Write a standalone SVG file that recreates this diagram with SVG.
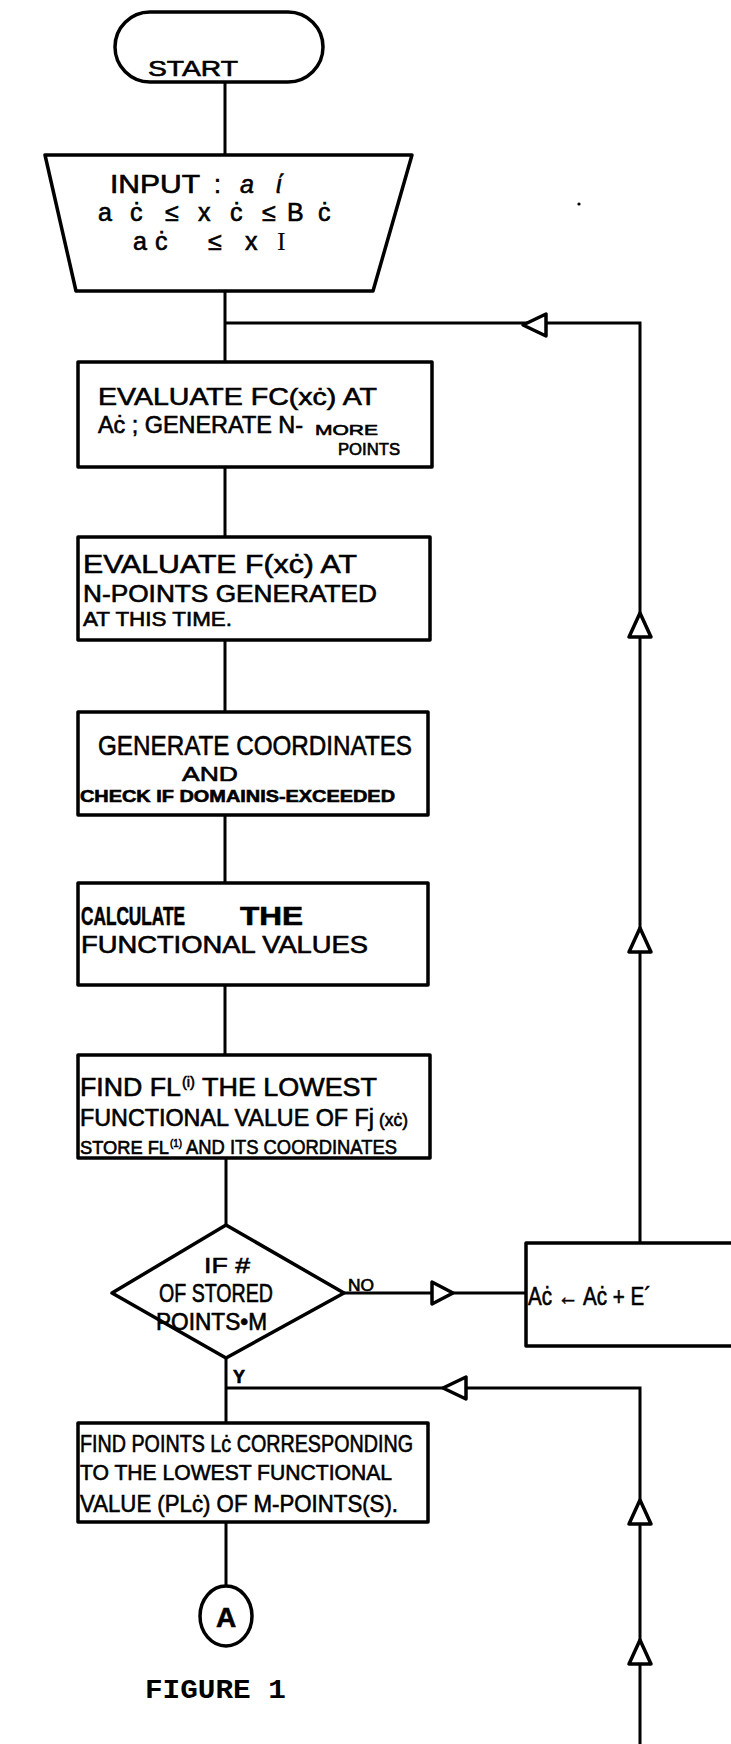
<svg xmlns="http://www.w3.org/2000/svg" width="731" height="1744" viewBox="0 0 731 1744">
<style>
.sh{fill:#fff;stroke:#000;stroke-width:3.5;stroke-linejoin:round}
.ln{fill:none;stroke:#000;stroke-width:3}
.ah{fill:#fff;stroke:#000;stroke-width:3.5;stroke-linejoin:round}
.t{font-family:"Liberation Sans",Arial,sans-serif;fill:#000;stroke:#000;stroke-width:0.6}
.m{font-family:"Liberation Mono","Courier New",monospace;font-weight:bold;fill:#000}
</style>
<rect width="731" height="1744" fill="#fff"/>
<g id="connectors">
<path class="ln" d="M225 82V155M225 290V362M225 467V537M225 640V712M225 815V883M225 985V1055M226 1158V1225M226 1358V1423M226 1522V1588"/>
<path class="ln" d="M225 323H640V1243"/>
<path class="ln" d="M344 1293H526"/>
<path class="ln" d="M226 1388H640V1744"/>
<polygon class="ah" points="523,325 546,314 546,336"/>
<polygon class="ah" points="640,613 629,637 651,637"/>
<polygon class="ah" points="640,928 629,952 651,952"/>
<polygon class="ah" points="453,1293 432,1282 432,1304"/>
<polygon class="ah" points="443,1388 466,1377 466,1399"/>
<polygon class="ah" points="640,1500 629,1524 651,1524"/>
<polygon class="ah" points="640,1640 629,1664 651,1664"/>
</g>
<circle cx="579" cy="204" r="1.6" fill="#000"/>
<g id="start">
<rect class="sh" x="115" y="12" width="208" height="70" rx="35"/>
<text class="t" x="148" y="76" font-size="22" textLength="90" lengthAdjust="spacingAndGlyphs">START</text>
</g>
<g id="input">
<polygon class="sh" points="45,155 412,155 373,291 76,291"/>
<text class="t" x="110" y="193" font-size="25" textLength="90" lengthAdjust="spacingAndGlyphs">INPUT</text>
<text class="t" x="214" y="193" font-size="25">:</text>
<text class="t" x="240" y="193" font-size="25" font-style="italic">a</text>
<text class="t" x="276" y="193" font-size="25" font-style="italic">ί</text>
<text class="t" y="221" font-size="25" x="98 130 165 198 230 262 287 318">aċ≤xċ≤Bċ</text>
<text class="t" y="250" font-size="25" x="133 155 208 245">aċ≤x</text>
<text x="277" y="250" font-size="26" font-family="Liberation Serif,serif" fill="#000">I</text>
</g>
<g id="box1">
<rect class="sh" x="78" y="362" width="354" height="105"/>
<text class="t" x="98" y="405" font-size="24" textLength="279" lengthAdjust="spacingAndGlyphs">EVALUATE  FC(xċ)  AT</text>
<text class="t" x="98" y="433" font-size="23" textLength="205" lengthAdjust="spacingAndGlyphs">Aċ ; GENERATE N-</text>
<text class="t" x="315" y="435" font-size="15" textLength="63" lengthAdjust="spacingAndGlyphs">MORE</text>
<text class="t" x="338" y="455" font-size="16" textLength="62" lengthAdjust="spacingAndGlyphs">POINTS</text>
</g>
<g id="box2">
<rect class="sh" x="78" y="537" width="352" height="103"/>
<text class="t" x="83" y="573" font-size="26" textLength="274" lengthAdjust="spacingAndGlyphs">EVALUATE  F(xċ)  AT</text>
<text class="t" x="83" y="602" font-size="24" textLength="294" lengthAdjust="spacingAndGlyphs">N-POINTS  GENERATED</text>
<text class="t" x="83" y="626" font-size="20" textLength="149" lengthAdjust="spacingAndGlyphs">AT THIS TIME.</text>
</g>
<g id="box3">
<rect class="sh" x="78" y="712" width="350" height="103"/>
<text class="t" x="98" y="755" font-size="28" textLength="314" lengthAdjust="spacingAndGlyphs">GENERATE  COORDINATES</text>
<text class="t" x="182" y="781" font-size="20" textLength="56" lengthAdjust="spacingAndGlyphs">AND</text>
<text class="t" x="80" y="802" font-size="17" font-weight="bold" textLength="315" lengthAdjust="spacingAndGlyphs">CHECK IF DOMAINIS-EXCEEDED</text>
</g>
<g id="box4">
<rect class="sh" x="78" y="883" width="350" height="102"/>
<text class="t" x="81" y="925" font-size="25" font-weight="bold" textLength="104" lengthAdjust="spacingAndGlyphs">CALCULATE</text>
<text class="t" x="240" y="925" font-size="26" font-weight="bold" textLength="63" lengthAdjust="spacingAndGlyphs">THE</text>
<text class="t" x="81" y="953" font-size="23" textLength="287" lengthAdjust="spacingAndGlyphs">FUNCTIONAL  VALUES</text>
</g>
<g id="box5">
<rect class="sh" x="78" y="1055" width="352" height="103"/>
<text class="t" x="80" y="1096" font-size="25" textLength="101" lengthAdjust="spacingAndGlyphs">FIND FL</text>
<text class="t" x="182" y="1087" font-size="14" textLength="13" lengthAdjust="spacingAndGlyphs">(i)</text>
<text class="t" x="202" y="1096" font-size="25" textLength="175" lengthAdjust="spacingAndGlyphs">THE LOWEST</text>
<text class="t" x="80" y="1126" font-size="23" textLength="294" lengthAdjust="spacingAndGlyphs">FUNCTIONAL VALUE OF Fj</text>
<text class="t" x="379" y="1126" font-size="18" textLength="29" lengthAdjust="spacingAndGlyphs">(xċ)</text>
<text class="t" x="80" y="1154" font-size="18" textLength="89" lengthAdjust="spacingAndGlyphs">STORE FL</text>
<text class="t" x="170" y="1147" font-size="11" textLength="12" lengthAdjust="spacingAndGlyphs">(1)</text>
<text class="t" x="186" y="1154" font-size="20" textLength="211" lengthAdjust="spacingAndGlyphs">AND ITS COORDINATES</text>
</g>
<g id="decision">
<polygon class="sh" points="226,1225 344,1293 226,1358 112,1293"/>
<text class="t" x="227" y="1273" font-size="22" text-anchor="middle" textLength="46" lengthAdjust="spacingAndGlyphs">IF #</text>
<text class="t" x="159" y="1302" font-size="25" textLength="114" lengthAdjust="spacingAndGlyphs">OF STORED</text>
<text class="t" x="156" y="1330" font-size="23" textLength="111" lengthAdjust="spacingAndGlyphs">POINTS•M</text>
<text class="t" x="348" y="1291" font-size="16" textLength="26" lengthAdjust="spacingAndGlyphs">NO</text>
<text class="t" x="233" y="1383" font-size="18" font-weight="bold">Y</text>
</g>
<g id="update">
<rect class="sh" x="526" y="1243" width="215" height="103"/>
<text class="t" x="528" y="1305" font-size="25" textLength="123" lengthAdjust="spacingAndGlyphs">Aċ ← Aċ + E´</text>
</g>
<g id="box6">
<rect class="sh" x="78" y="1423" width="350" height="99"/>
<text class="t" x="80" y="1452" font-size="24" textLength="333" lengthAdjust="spacingAndGlyphs" stroke-width="0.9">FIND POINTS Lċ CORRESPONDING</text>
<text class="t" x="80" y="1480" font-size="22" textLength="312" lengthAdjust="spacingAndGlyphs">TO THE LOWEST FUNCTIONAL</text>
<text class="t" x="80" y="1512" font-size="24" textLength="318" lengthAdjust="spacingAndGlyphs">VALUE (PLċ) OF M-POINTS(S).</text>
</g>
<g id="connector-a">
<ellipse class="sh" cx="226" cy="1616" rx="26" ry="30"/>
<text class="t" x="226" y="1627" font-size="28" font-weight="bold" text-anchor="middle">A</text>
</g>
<text class="m" x="145" y="1698" font-size="27" textLength="141" lengthAdjust="spacingAndGlyphs">FIGURE 1</text>
</svg>
